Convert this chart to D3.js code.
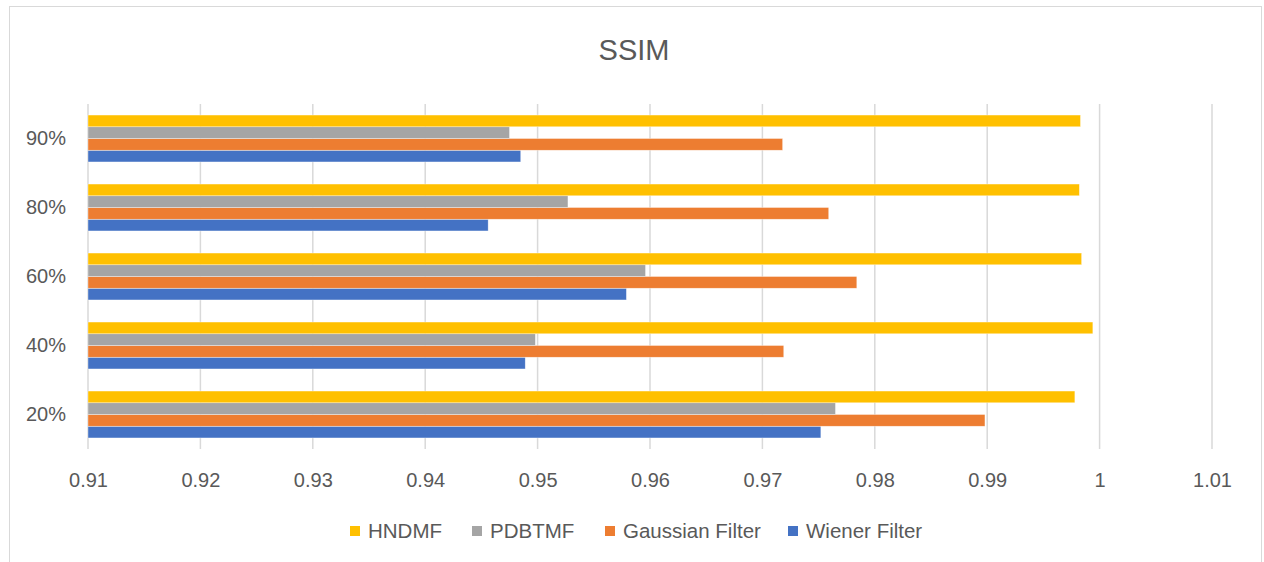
<!DOCTYPE html>
<html><head><meta charset="utf-8">
<script src="https://cdn.jsdelivr.net/npm/d3@7"></script>
<style>
body{margin:0;background:#fff;}
text{font-family:"Liberation Sans",Arial,sans-serif;fill:#595959;}
</style></head>
<body><svg id="c" width="1264" height="562"></svg>
<script>
const categories = ["20%","40%","60%","80%","90%"];
const seriesNames = ["Wiener Filter","Gaussian Filter","PDBTMF","HNDMF"];
const wiener   = [0.9752,0.9489,0.9579,0.9456,0.9485];
const gaussian = [0.9898,0.9719,0.9784,0.9759,0.9718];
const pdbtmf   = [0.9765,0.9498,0.9596,0.9527,0.9475];
const hndmf    = [0.9978,0.9994,0.9984,0.9982,0.9983];
const xTicks = [0.91,0.92,0.93,0.94,0.95,0.96,0.97,0.98,0.99,1,1.01];
const colors = ["#4472C4","#ED7D31","#A5A5A5","#FFC000"];
const legendOrder = ["HNDMF","PDBTMF","Gaussian Filter","Wiener Filter"];

(function(){
const values = [wiener,gaussian,pdbtmf,hndmf];
const svg = d3.select("#c");
svg.append("rect").attr("x",9.5).attr("y",6.5).attr("width",1252).attr("height",570)
  .attr("fill","#fff").attr("stroke","#D9D9D9").attr("stroke-width",1);

const pl=88, pr=1212, pt=104, pb=449;
const x = d3.scaleLinear().domain([0.91,1.01]).range([pl,pr]);
const y = d3.scaleBand().domain(categories).range([pb,pt]).paddingInner(0.32).paddingOuter(0.16);
const y1 = d3.scaleBand().domain(d3.range(4)).range([y.bandwidth(),0]);

svg.append("g").selectAll("line").data(xTicks).join("line")
  .attr("x1",d=>x(d)).attr("x2",d=>x(d)).attr("y1",pt).attr("y2",pb)
  .attr("stroke","#D9D9D9").attr("stroke-width",1.5);

const g = svg.append("g");
categories.forEach((c,ci)=>{
  values.forEach((arr,si)=>{
    g.append("rect")
      .attr("x",x(0.91))
      .attr("y",y(c)+y1(si))
      .attr("width",x(arr[ci])-x(0.91))
      .attr("height",y1.bandwidth())
      .attr("fill",colors[si])
      .attr("stroke","#fff").attr("stroke-width",0.6).attr("stroke-opacity",0.6);
  });
});

const xa = d3.axisBottom(x).tickValues(xTicks).tickSize(0).tickFormat(d=>String(+d.toFixed(2)));
const xg = svg.append("g").attr("transform",`translate(0,${pb})`).call(xa);
xg.select(".domain").remove();
xg.selectAll("text").attr("dy",0).attr("y",38).style("font-size","20px").style("fill","#595959")
  .style("font-family",'"Liberation Sans",Arial,sans-serif');

const ya = d3.axisLeft(y).tickSize(0);
const yg = svg.append("g").attr("transform",`translate(${pl},0)`).call(ya);
yg.select(".domain").remove();
yg.selectAll("text").attr("x",-22).style("font-size","20px").style("fill","#595959")
  .style("font-family",'"Liberation Sans",Arial,sans-serif');

svg.append("text").attr("x",634).attr("y",60).attr("text-anchor","middle")
  .style("font-size","29px").text("SSIM");

const legX = [350,472,605,788];
const lg = svg.append("g");
legendOrder.forEach((n,i)=>{
  const si = seriesNames.indexOf(n);
  lg.append("rect").attr("x",legX[i]).attr("y",526).attr("width",10).attr("height",10).attr("fill",colors[si]);
  lg.append("text").attr("x",legX[i]+18).attr("y",538).style("font-size","20.5px").text(n);
});
})();
</script></body></html>
